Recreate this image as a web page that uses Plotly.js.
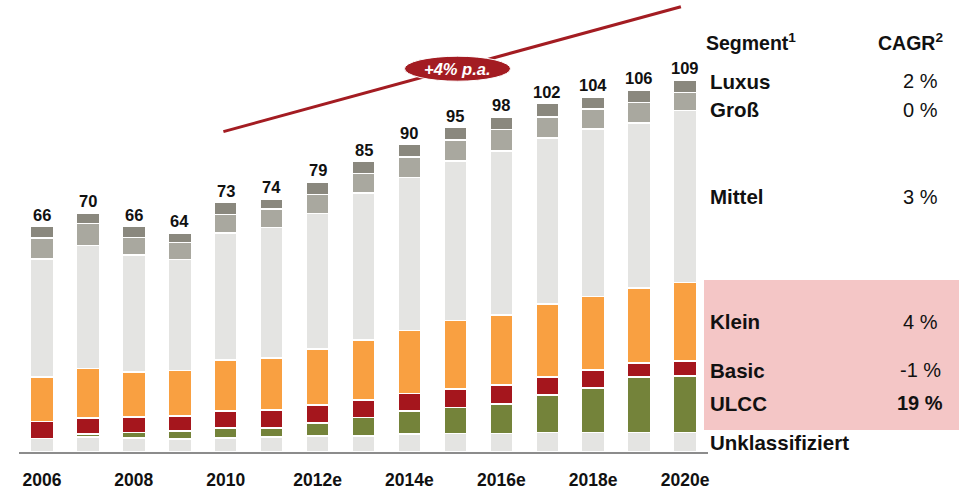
<!DOCTYPE html>
<html>
<head>
<meta charset="utf-8">
<script src="https://cdn.plot.ly/plotly-3.0.1.min.js"></script>
<style>
  html, body { margin: 0; padding: 0; background: #ffffff; }
  #chart { width: 961px; height: 489px; }
</style>
</head>
<body>
<div id="chart"></div>
<script>
// Years on the category axis (e = estimate)
const years = ["2006", "2007", "2008", "2009", "2010", "2011", "2012e", "2013e",
               "2014e", "2015e", "2016e", "2017e", "2018e", "2019e", "2020e"];
const tickYears = ["2006", "2008", "2010", "2012e", "2014e", "2016e", "2018e", "2020e"];

// Segment volumes, stacked bottom to top
const unklassifiziert = [4.0, 4.4, 4.1, 3.8, 4.1, 4.4, 4.7, 4.7, 5.2, 5.4, 5.4, 5.7, 5.7, 5.7, 5.7];
const ulcc            = [0.0, 0.9, 1.6, 2.4, 3.0, 2.7, 3.8, 5.4, 6.8, 7.6, 8.6, 11.0, 13.0, 16.2, 16.6];
const basic           = [5.0, 4.7, 4.6, 4.4, 4.9, 5.2, 5.3, 5.1, 5.2, 5.5, 5.6, 5.3, 5.3, 4.1, 4.4];
const klein           = [13.0, 14.5, 13.1, 13.3, 15.0, 15.3, 16.3, 17.6, 18.4, 20.0, 20.5, 21.4, 21.6, 22.0, 22.9];
const mittel          = [34.5, 36.0, 34.3, 32.4, 37.2, 38.1, 39.7, 43.1, 44.8, 46.7, 48.1, 48.5, 49.0, 48.4, 50.4];
const gross           = [6.2, 6.4, 5.1, 5.1, 5.3, 5.4, 5.6, 5.7, 6.0, 6.1, 6.2, 6.2, 5.8, 5.9, 5.2];
const luxus           = [3.3, 3.1, 3.2, 2.6, 3.5, 2.9, 3.6, 3.4, 3.6, 3.7, 3.6, 3.9, 3.6, 3.7, 3.8];

// Legend rows: segment name and CAGR
const segmentNames = ["Unklassifiziert", "ULCC", "Basic", "Klein", "Mittel", "Groß", "Luxus"];
const segmentCagr  = ["", "19 %", "-1 %", "4 %", "3 %", "0 %", "2 %"];
const trendLabel = "+4% p.a.";

const segments = [unklassifiziert, ulcc, basic, klein, mittel, gross, luxus];
const colors = ["#e4e4e2", "#74833a", "#a5161d", "#f9a041", "#e4e4e2", "#a9a89f", "#8a887e"];

const FONT = "Liberation Sans, Arial, Helvetica, sans-serif";
const INK = "#111111";
const RED = "#a31c22";

// Pixel geometry of the plot area
const PLOT_L = 19, PLOT_R = 708, PLOT_T = 0, PLOT_B = 452;
const PX_PER_UNIT = 3.415;
const yMax = (PLOT_B - PLOT_T) / PX_PER_UNIT;
const slot = (PLOT_R - PLOT_L) / years.length;
const px2paperX = px => (px - PLOT_L) / (PLOT_R - PLOT_L);
const px2paperY = py => (PLOT_B - py) / (PLOT_B - PLOT_T);

const traces = segments.map((vals, k) => ({
  type: "bar",
  x: years,
  y: vals,
  name: segmentNames[k],
  marker: { color: colors[k], line: { color: "#ffffff", width: 1.5 } },
  hoverinfo: "skip"
}));

const totals = years.map((_, i) => segments.reduce((s, arr) => s + arr[i], 0));

const annotations = [];

// Totals above the bars
totals.forEach((t, i) => {
  annotations.push({
    x: i, y: t, xref: "x", yref: "y",
    text: String(Math.round(t)),
    showarrow: false, yanchor: "middle", yshift: 12,
    font: { family: FONT, size: 16.5, color: INK, weight: 700 }
  });
});

// Legend headers
annotations.push({
  xref: "paper", yref: "paper", x: px2paperX(704), y: px2paperY(42),
  xanchor: "left", yanchor: "middle", showarrow: false,
  text: "Segment<sup>1</sup>",
  font: { family: FONT, size: 19.5, color: INK, weight: 700 }
});
annotations.push({
  xref: "paper", yref: "paper", x: px2paperX(945), y: px2paperY(42),
  xanchor: "right", yanchor: "middle", showarrow: false,
  text: "CAGR<sup>2</sup>",
  font: { family: FONT, size: 19.5, color: INK, weight: 700 }
});

// Legend rows aligned with the segments of the last bar
const last = years.length - 1;
const rowShift = [0, 1, -2, 0, 0, -8, 5];
let cum = 0;
segments.forEach((arr, k) => {
  const mid = cum + arr[last] / 2;
  cum += arr[last];
  annotations.push({
    xref: "paper", yref: "y", x: px2paperX(708), y: mid, yshift: rowShift[k],
    xanchor: "left", yanchor: "middle", showarrow: false,
    text: segmentNames[k],
    font: { family: FONT, size: 20.5, color: INK, weight: 700 }
  });
  if (segmentCagr[k]) {
    annotations.push({
      xref: "paper", yref: "y", x: px2paperX(920), y: mid, yshift: rowShift[k],
      xanchor: "center", yanchor: "middle", showarrow: false,
      text: segmentCagr[k],
      font: { family: FONT, size: 20, color: INK, weight: segmentNames[k] === "ULCC" ? 700 : 400 }
    });
  }
});

// Trend badge
const badgeX = (457.5 - PLOT_L) / slot - 0.5;
const badgeY = (PLOT_B - 68.7) / PX_PER_UNIT;
annotations.push({
  x: badgeX, y: badgeY, xref: "x", yref: "y",
  text: "<b><i>" + trendLabel + "</i></b>",
  showarrow: false, xanchor: "center", yanchor: "middle",
  font: { family: FONT, size: 16.5, color: "#ffffff" }
});

const shapes = [
  // highlighted segments
  {
    type: "rect", xref: "paper", yref: "paper", layer: "below",
    x0: px2paperX(704), x1: px2paperX(959), y0: px2paperY(430), y1: px2paperY(280),
    fillcolor: "#f4c6c6", line: { width: 0 }
  },
  // growth trend line
  {
    type: "line", xref: "x", yref: "y",
    x0: 3.95, y0: 93.8, x1: 13.91, y1: 130.4,
    line: { color: RED, width: 3 }
  },
  // badge
  {
    type: "circle", xref: "x", yref: "y",
    x0: badgeX - 53 / slot, x1: badgeX + 53 / slot,
    y0: badgeY - 12.5 / PX_PER_UNIT, y1: badgeY + 12.5 / PX_PER_UNIT,
    fillcolor: RED, line: { color: "#ffffff", width: 1 }
  }
];

const layout = {
  width: 961, height: 489,
  margin: { l: PLOT_L, r: 961 - PLOT_R, t: PLOT_T, b: 489 - PLOT_B },
  paper_bgcolor: "#ffffff", plot_bgcolor: "#ffffff",
  barmode: "stack", bargap: 0.5,
  showlegend: false,
  xaxis: {
    type: "category", range: [-0.5, years.length - 0.5],
    showline: true, linecolor: "#8c8c8c", linewidth: 2,
    showgrid: false, zeroline: false,
    ticks: "", ticklabelstandoff: 11,
    tickvals: tickYears, ticktext: tickYears,
    tickfont: { family: FONT, size: 17.5, color: INK, weight: 700 },
    fixedrange: true
  },
  yaxis: { range: [0, yMax], visible: false, fixedrange: true },
  annotations: annotations,
  shapes: shapes
};

Plotly.newPlot("chart", traces, layout, { displayModeBar: false, staticPlot: true });
</script>
</body>
</html>
